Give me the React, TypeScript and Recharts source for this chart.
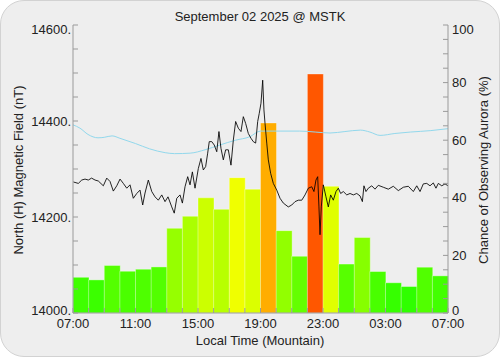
import React from 'react'
import { ComposedChart, Bar, Line, XAxis, YAxis, Cell } from 'recharts'

// hourly aurora chance, 07:00 -> 06:00 local
const barHours = [
  '07:00', '08:00', '09:00', '10:00', '11:00', '12:00', '13:00', '14:00',
  '15:00', '16:00', '17:00', '18:00', '19:00', '20:00', '21:00', '22:00',
  '23:00', '00:00', '01:00', '02:00', '03:00', '04:00', '05:00', '06:00',
]
const auroraChance = [
  12.4, 11.5, 16.5, 14.5, 15.2, 16, 29.4, 33.6, 40, 36, 47, 43,
  66, 28.6, 19.7, 83, 44, 17, 26.2, 14.4, 10.5, 9.2, 15.9, 12.9,
]

// magnetometer trace (hours since 07:00, nT)
const magHours = [
  0.02, 0.34, 0.56, 0.77, 0.98, 1.19, 1.41, 1.62, 1.94, 2.16, 2.37, 2.58, 2.8, 3.01,
  3.22, 3.44, 3.65, 3.86, 4.08, 4.29, 4.46, 4.61, 4.82, 5.04, 5.25, 5.46, 5.68, 5.89,
  6.08, 6.32, 6.48, 6.64, 6.85, 7.0, 7.17, 7.34, 7.49, 7.64, 7.81, 8.02, 8.19, 8.34,
  8.49, 8.62, 8.72, 8.88, 9.04, 9.2, 9.34, 9.47, 9.62, 9.77, 9.94, 10.11, 10.26, 10.41,
  10.58, 10.75, 10.9, 11.05, 11.22, 11.39, 11.54, 11.69, 11.82, 11.92, 12.03, 12.14,
  12.22, 12.29, 12.4, 12.5, 12.65, 12.82, 13.04, 13.25, 13.46, 13.78, 14.0, 14.21,
  14.42, 14.64, 14.85, 15.06, 15.28, 15.42, 15.55, 15.66, 15.74, 15.81, 15.89, 16.02,
  16.19, 16.34, 16.49, 16.66, 16.83, 16.98, 17.13, 17.3, 17.52, 17.73, 17.94, 18.16,
  18.37, 18.52, 18.62, 18.75, 18.9, 19.12, 19.33, 19.54, 19.86, 20.18, 20.5, 20.82,
  21.14, 21.46, 21.78, 22.0, 22.21, 22.42, 22.64, 22.85, 23.06, 23.23, 23.38, 23.6,
  23.81, 24,
]
const magField = [
  14273, 14270, 14277, 14279, 14277, 14281, 14277, 14275, 14265, 14281, 14274, 14254, 14265, 14279,
  14270, 14260, 14267, 14239, 14249, 14256, 14225, 14250, 14277, 14253, 14242, 14235, 14246, 14232,
  14242, 14221, 14208, 14239, 14246, 14229, 14263, 14284, 14267, 14294, 14260, 14301, 14322, 14298,
  14305, 14333, 14357, 14357, 14350, 14336, 14378, 14343, 14319, 14340, 14340, 14308, 14360, 14399,
  14385, 14378, 14409, 14395, 14374, 14364, 14357, 14354, 14399, 14416, 14437, 14485,
  14423, 14395, 14354, 14319, 14291, 14270, 14256, 14239, 14229, 14221, 14225, 14232,
  14235, 14235, 14246, 14260, 14263, 14253, 14277, 14284, 14221, 14163, 14221, 14267,
  14242, 14221, 14246, 14235, 14253, 14260, 14249, 14253, 14246, 14249, 14246, 14249,
  14244, 14232, 14265, 14253, 14260, 14265, 14258, 14266, 14262, 14258, 14264, 14255,
  14262, 14264, 14253, 14265, 14253, 14269, 14270, 14265, 14271, 14260, 14270, 14265,
  14269, 14265,
]

// quiet-day baseline
const baseHours = [
  0, 0.45, 0.96, 1.6, 2.0, 2.5, 3.0, 4.0, 4.9, 5.9, 6.5, 7.5, 8.45, 9.4, 10.4,
  11.3, 12, 13.25, 14.5, 15.5, 16.45, 17.4, 18.4, 19, 19.65, 20.6, 21.6, 22.9, 24,
]
const baseField = [
  14392, 14385, 14372, 14365, 14366, 14369, 14364, 14353, 14342, 14334, 14332, 14333, 14340, 14350, 14360,
  14367, 14379, 14379, 14379, 14377, 14375, 14378, 14381, 14377, 14370, 14374, 14377, 14380, 14384,
]

const fieldTicks = [14000, 14050, 14100, 14150, 14200, 14250, 14300, 14350, 14400, 14450, 14500, 14550, 14600]
const chanceTicks = [0, 5, 10, 15, 20, 25, 30, 35, 40, 45, 50, 55, 60, 65, 70, 75, 80, 85, 90, 95, 100]
const timeTicks = [0, 1, 2, 3, 4, 5, 6, 7, 8, 9, 10, 11, 12, 13, 14, 15, 16, 17, 18, 19, 20, 21, 22, 23, 24]

const barData = barHours.map((hour, i) => ({ hour, chance: auroraChance[i] }))
const magData = magHours.map((h, i) => ({ h, nt: magField[i] }))
const baseData = baseHours.map((h, i) => ({ h, nt: baseField[i] }))

// green -> red depending on chance
const chanceColor = (v: number) => `hsl(${120 - 1.2 * v}, 100%, 50%)`

const fmtTime = (h: number) => (h % 4 === 0 ? `${String((7 + h) % 24).padStart(2, '0')}:00` : '')
const fmtField = (v: number) => (v % 200 === 0 ? `${v}.` : '')
const fmtChance = (v: number) => (v % 20 === 0 ? `${v}` : '')

const axisGray = '#9a9a9a'
const textStyle = { fill: '#222', fontSize: 13 }
const font = '"Liberation Sans", Arial, sans-serif'

// y tick label; the end labels are pulled a bit inside the frame
function sideTick(props: any, fmt: (v: number) => string, lo: number, hi: number) {
  const { x, y, payload, textAnchor } = props
  const label = fmt(payload.value)
  if (!label) return <g />
  const dy = payload.value === lo ? -3 : payload.value === hi ? 4 : 0
  return (
    <text x={x} y={y + dy} textAnchor={textAnchor} dominantBaseline="central" fill="#222" fontSize={13}>
      {label}
    </text>
  )
}

export default function App() {
  return (
    <div style={{ position: 'absolute', left: 0, top: 0, width: 500, height: 357, background: '#fff', fontFamily: font }}>
      <div
        style={{
          position: 'absolute', left: 0, top: 0, width: 500, height: 357, boxSizing: 'border-box',
          background: '#eeeeee', border: '1px solid #d2d2d2', borderRadius: 24,
        }}
      />
      <ComposedChart
        width={500}
        height={357}
        data={barData}
        barCategoryGap={0}
        margin={{ top: 25, right: 8, bottom: 14, left: 8 }}
        style={{ position: 'absolute', left: 0, top: 0, fontFamily: font }}
      >
        <XAxis
          xAxisId="t"
          type="number"
          dataKey="h"
          domain={[0, 24]}
          ticks={timeTicks}
          interval={0}
          tickFormatter={fmtTime}
          height={30}
          tickSize={-5}
          tickMargin={11}
          stroke={axisGray}
          tick={textStyle}
        />
        <XAxis xAxisId="cat" dataKey="hour" hide height={0} />
        <XAxis
          xAxisId="top"
          orientation="top"
          type="number"
          domain={[0, 24]}
          ticks={timeTicks}
          interval={0}
          tickFormatter={() => ''}
          height={0}
          tickSize={-5}
          stroke={axisGray}
        />
        <YAxis
          yAxisId="nt"
          orientation="left"
          domain={[14000, 14600]}
          ticks={fieldTicks}
          interval={0}
          tickFormatter={fmtField}
          width={65}
          tickSize={-5}
          tickMargin={7}
          stroke={axisGray}
          tick={(p: any) => sideTick(p, fmtField, 14000, 14600)}
        />
        <YAxis
          yAxisId="pct"
          orientation="right"
          domain={[0, 100]}
          ticks={chanceTicks}
          interval={0}
          tickFormatter={fmtChance}
          width={44}
          tickSize={-5}
          tickMargin={9}
          stroke={axisGray}
          tick={(p: any) => sideTick(p, fmtChance, 0, 100)}
        />
        <Line
          data={baseData}
          xAxisId="t"
          yAxisId="nt"
          dataKey="nt"
          type="monotone"
          stroke="#92d8ec"
          strokeWidth={1}
          dot={false}
          isAnimationActive={false}
        />
        <Bar xAxisId="cat" yAxisId="pct" dataKey="chance" isAnimationActive={false} stroke="#ffffff" strokeOpacity={0.35}>
          {auroraChance.map((v, i) => (
            <Cell key={i} fill={chanceColor(v)} />
          ))}
        </Bar>
        <Line
          data={magData}
          xAxisId="t"
          yAxisId="nt"
          dataKey="nt"
          type="linear"
          stroke="#000"
          strokeOpacity={0.85}
          strokeWidth={1}
          dot={false}
          isAnimationActive={false}
        />
      </ComposedChart>
      <svg width={500} height={357} style={{ position: 'absolute', left: 0, top: 0, pointerEvents: 'none' }}>
        <g fontFamily={font} fontSize={13} fill="#222" textAnchor="middle">
          <text x={260} y={21}>September 02 2025 @ MSTK</text>
          <text x={260} y={345}>Local Time (Mountain)</text>
          <text transform="translate(23,170) rotate(-90)">North (H) Magnetic Field (nT)</text>
          <text transform="translate(488,170) rotate(-90)">Chance of Observing Aurora (%)</text>
        </g>
      </svg>
    </div>
  )
}
